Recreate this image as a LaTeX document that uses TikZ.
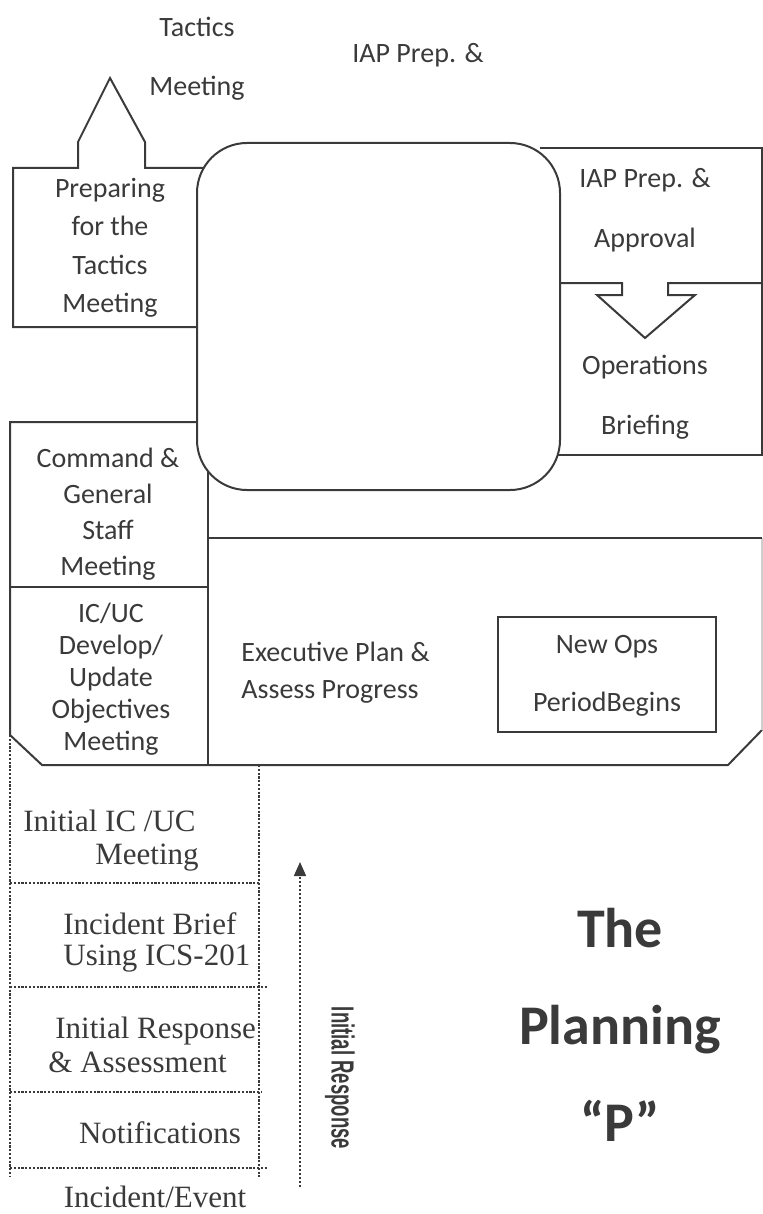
\documentclass[tikz,border=0pt]{standalone}
\usepackage{fontspec}
\usepackage{graphicx}
\setsansfont{Carlito}
\newfontfamily\cambriafam{Liberation Serif}
\newfontfamily\narrowfam{Liberation Sans}
\usetikzlibrary{arrows.meta,positioning}
\definecolor{ink}{HTML}{3A3A3A}

\begin{document}
\begin{tikzpicture}[x=0.5pt,y=-0.5pt,
    stage/.style={text=ink,align=center,inner sep=0pt,font=\sffamily\fontsize{14pt}{19pt}\selectfont},
    wide stage/.style={stage,font=\sffamily\fontsize{14pt}{30pt}\selectfont},
    ir text/.style={text=ink,align=left,inner sep=0pt,font=\cambriafam\fontsize{15.5pt}{16.5pt}\selectfont},
    title text/.style={text=ink,align=center,inner sep=0pt,font=\sffamily\bfseries\fontsize{28pt}{48.5pt}\selectfont},
    frame/.style={draw=ink,line width=1pt,line join=miter},
    dots/.style={draw=ink,line width=1.4pt,dash pattern=on 1.1pt off 0.8pt},
    flow/.style={draw=ink,line width=0.8pt,dash pattern=on 0.8pt off 1.2pt,-{Triangle[length=7pt,width=6pt]}}]
\useasboundingbox (0,0) rectangle (763,1214);

% upper part of the P
\draw[frame] (197,327) -- (13,327) -- (13,168) -- (78,168) -- (78,142) -- (110,78)
    -- (145,142) -- (145,168) -- (230,168);
\draw[frame] (540,148) -- (762,148) -- (762,455) -- (540,455);
\draw[frame] (540,283) -- (622,283) -- (622,295) -- (597,295) -- (645,338)
    -- (695,295) -- (668,295) -- (668,283) -- (762,283);
\draw[frame] (230,422) -- (10,422) -- (10,735) -- (42,765) -- (728,765) -- (762,730);
\draw[draw=ink!25,line width=0.8pt] (762,730) -- (762,538);
\draw[frame] (208,538) -- (762,538);
\draw[frame] (208,440) -- (208,765);
\draw[frame] (10,587) -- (208,587);
\draw[frame,fill=white,rounded corners=25pt] (197,143) rectangle (560,490);
\draw[frame] (498,617) rectangle (716,732);

% initial response steps
\draw[dots] (10,735) -- (10,1177);
\draw[dots] (259,765) -- (259,1177);
\draw[dots] (10,883) -- (259,883);
\draw[dots] (10,987) -- (267,987);
\draw[dots] (10,1092) -- (262,1092);
\draw[dots] (10,1168) -- (267,1168);

\node[stage] (tactics) at (197,27) {Tactics};
\node[stage] (tacticsMeeting) [below of=tactics,node distance=30.5pt] {Meeting};
\node[stage] (iapTop) at (418,55) {IAP Prep. \&};
\node[stage,font=\sffamily\fontsize{14pt}{19.25pt}\selectfont] (prepTactics) at (110,248)
    {Preparing\\for the\\Tactics\\Meeting};
\node[wide stage] (iapPrep) at (645,210) {IAP Prep. \&\\Approval};
\node[wide stage] (opsBrief) at (645,397) {Operations\\Briefing};
\node[stage,font=\sffamily\fontsize{14pt}{18pt}\selectfont] (cgsMeeting) at (108,514)
    {Command \&\\General\\Staff\\Meeting};
\node[stage,font=\sffamily\fontsize{14pt}{16pt}\selectfont] (objMeeting) at (111,679)
    {IC/UC\\Develop/\\Update\\Objectives\\Meeting};
\node[stage,align=left,anchor=west,font=\sffamily\fontsize{14pt}{18.5pt}\selectfont] (execPlan) at (241,673)
    {Executive Plan \&\\Assess Progress};
\node[stage,font=\sffamily\fontsize{14pt}{29pt}\selectfont] (newOps) at (607,676) {New Ops\\PeriodBegins};

\node[ir text,anchor=west] (initMeeting) at (23,841) {Initial IC /UC\\\hspace*{36pt}Meeting};
\node[ir text,anchor=west,font=\cambriafam\fontsize{15.5pt}{15.5pt}\selectfont] (incBrief) at (63,942)
    {Incident Brief\\Using ICS-201};
\node[ir text,anchor=west,font=\cambriafam\fontsize{15.5pt}{17pt}\selectfont] (initResp) at (48,1045)
    {\hspace*{3.5pt}Initial Response\\\& Assessment};
\node[ir text] (notif) at (160,1133) {Notifications};
\node[ir text] (incEvent) at (155,1197) {Incident/Event};

\coordinate (flowStart) at (300,1187);
\coordinate (flowEnd) at (300,862);
\draw[flow] (flowStart) -- (flowEnd);
\node[text=ink,inner sep=0pt,rotate=-90,font=\narrowfam\bfseries\fontsize{16pt}{16pt}\selectfont] (respLabel)
    at (340,1078) {\scalebox{0.58}[1]{Initial Response}};

\node[title text] (planningP) at (620,1025) {The\\Planning\\“P”};
\end{tikzpicture}
\end{document}
